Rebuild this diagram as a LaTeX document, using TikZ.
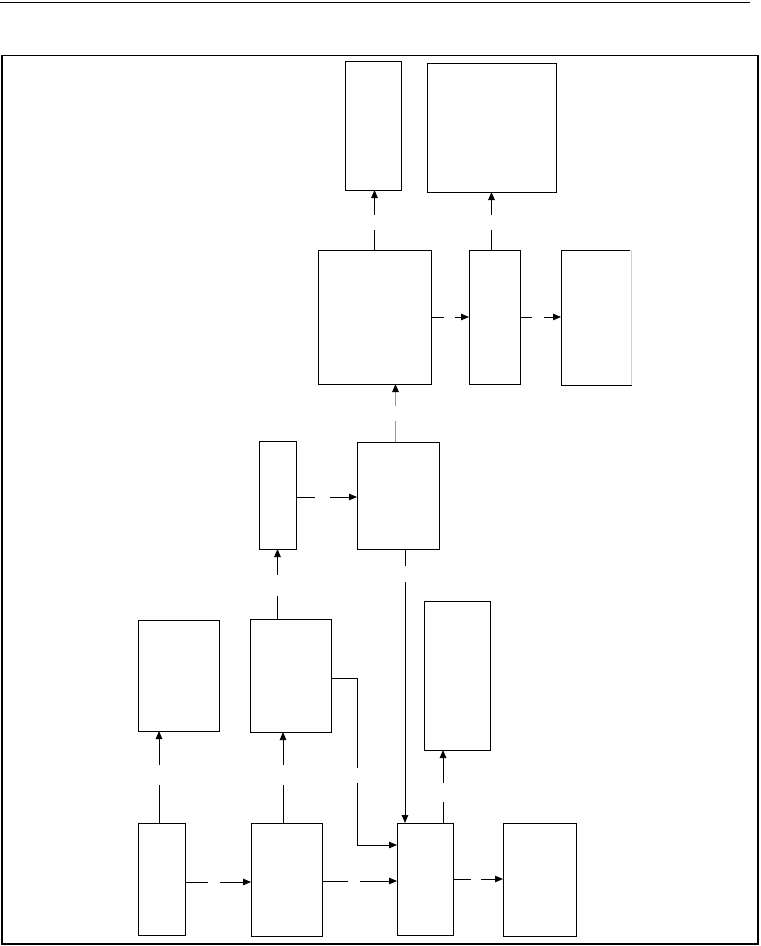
\documentclass[tikz,border=0pt]{standalone}
\usetikzlibrary{arrows.meta}
\begin{document}
\begin{tikzpicture}[x=1pt,y=-1pt,
  box/.style={draw, line width=1pt, inner sep=0pt, outer sep=0pt, anchor=north west},
  conn/.style={line width=0.9pt, -{Triangle[length=8pt,width=6.5pt]}},
  plain/.style={line width=0.9pt}]
\useasboundingbox (0,0) rectangle (761,946);
% page rule and frame
\coordinate (rl) at (0,2);
\coordinate (rr) at (750,2);
\draw[plain] (rl) -- (rr);
\coordinate (fa) at (2,55.5);
\coordinate (fb) at (758,944);
\draw[line width=1.3pt] (fa) rectangle (fb);
\draw[line width=1.9pt] (fa) -- (fa -| fb);
% boxes
\node[box, minimum width=56pt, minimum height=129pt] (A) at (345,61) {};
\node[box, minimum width=129pt, minimum height=129pt] (B) at (427,63) {};
\node[box, minimum width=113pt, minimum height=134pt] (C) at (318,250) {};
\node[box, minimum width=51pt, minimum height=134pt] (D) at (469,250) {};
\node[box, minimum width=70pt, minimum height=135pt] (E) at (561,250) {};
\draw[white, line width=1.5pt] (E.north east) -- (E.south east);
\draw[black!18, line width=0.8pt] (E.north east) -- (E.south east);
\node[box, minimum width=37pt, minimum height=108pt] (F) at (259,441) {};
\node[box, minimum width=82pt, minimum height=107pt] (G) at (357,442) {};
\node[box, minimum width=81pt, minimum height=111pt] (H) at (138,620) {};
\node[box, minimum width=81pt, minimum height=113pt] (I) at (250,619) {};
\node[box, minimum width=66pt, minimum height=149pt] (J) at (424,601) {};
\node[box, minimum width=47pt, minimum height=112pt] (K) at (138,823) {};
\node[box, minimum width=71pt, minimum height=113pt] (L) at (251,823) {};
\node[box, minimum width=56pt, minimum height=112pt] (M) at (397,823) {};
\node[box, minimum width=73pt, minimum height=113pt] (N) at (503,823) {};
% helper coordinates
\coordinate (gn) at ([xshift=-2.5pt]G.north);
\coordinate (gs) at ([xshift=7pt]G.south);
\coordinate (fe) at ([yshift=-2pt]F.east);
\coordinate (ie) at ([yshift=-2.5pt]I.east);
\coordinate (ib1) at ([xshift=-40pt,yshift=-22pt]M.north west);
\coordinate (ib2) at ([yshift=-22pt]M.north west);
\coordinate (kn) at ([xshift=-2.5pt]K.north);
\coordinate (ln) at ([xshift=-3.5pt]L.north);
\coordinate (ke) at ([yshift=-3pt]K.east);
\coordinate (le) at ([yshift=-1.5pt]L.east);
\coordinate (js) at ([xshift=-14pt]J.south);
% connectors
\draw[conn, dash pattern=on 20pt off 15pt on 200pt] (C.north) -- (C.north |- A.south);
\draw[conn, dash pattern=on 20pt off 15pt on 200pt] (B.south |- D.north) -- (B.south);
\draw[conn, dash pattern=on 13pt off 11pt on 200pt] (C.east) -- (C.east -| D.west);
\draw[conn, dash pattern=on 12pt off 12pt on 200pt] (D.east) -- (D.east -| E.west);
\draw[line width=0.9pt, draw=black!40, -{Triangle[length=8pt,width=6.5pt,color=black]}, dash pattern=on 21pt off 15pt on 200pt] (gn) -- (gn |- C.south);
\draw[conn, dash pattern=on 19pt off 15pt on 200pt] (fe) -- (fe -| G.west);
\draw[conn, dash pattern=on 23pt off 21pt on 200pt] (F.south |- I.north) -- (F.south);
\draw[conn, dash pattern=on 17pt off 16pt on 400pt] (gs) -- (gs |- M.north);
\draw[conn, dash pattern=on 116pt off 15pt on 200pt] (ie) -| (ib1) -- (ib2);
\draw[conn, dash pattern=on 38pt off 20pt on 200pt] (kn) -- (kn |- H.south);
\draw[conn, dash pattern=on 38pt off 20pt on 200pt] (ln) -- (ln |- I.south);
\draw[conn, dash pattern=on 23pt off 12pt on 200pt] (ke) -- (ke -| L.west);
\draw[conn, dash pattern=on 26pt off 12pt on 200pt] (le) -- (le -| M.west);
\draw[conn, dash pattern=on 21pt off 19pt on 200pt] (js |- M.north) -- (js);
\draw[conn, dash pattern=on 18pt off 10pt on 200pt] (M.east) -- (M.east -| N.west);
\end{tikzpicture}
\end{document}
